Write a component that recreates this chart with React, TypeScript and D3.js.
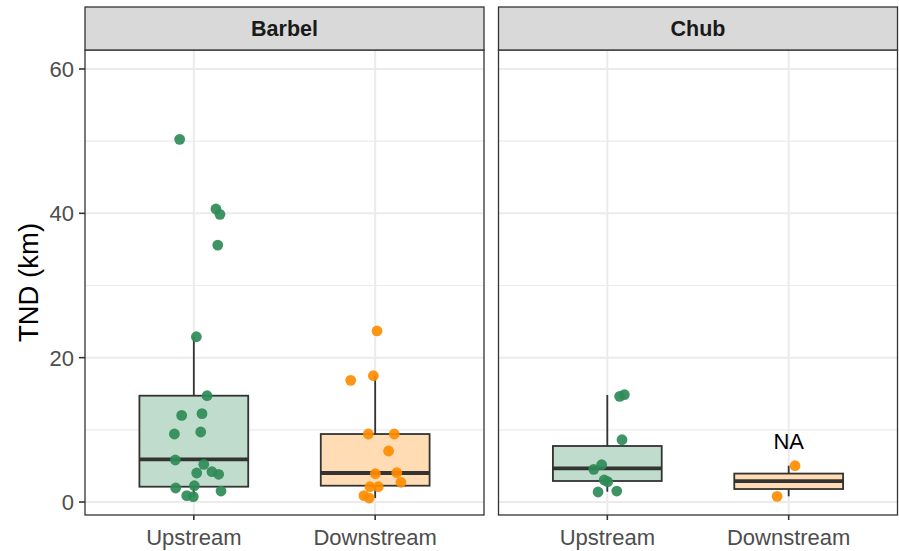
import React from "react";
import * as d3 from "d3";

// ---- Data ----
const facets = ["Barbel", "Chub"];
const groups = ["Upstream", "Downstream"];
const yTicks = [0, 20, 40, 60];
const yMinorTicks = [10, 30, 50];

// box stats: [lowerWhisker, q1, median, q3, upperWhisker]
const boxBarbelUp = [0.74, 2.12, 5.9, 14.73, 22.9];
const boxBarbelDown = [0.55, 2.26, 4.02, 9.42, 17.46];
const boxChubUp = [1.43, 2.91, 4.67, 7.76, 14.83];
const boxChubDown = [0.79, 1.8, 2.88, 3.94, 5.03];

// points: [value, jitter offset in category units]
const ptsBarbelUp: [number, number][] = [
  [50.25, -0.078], [40.6, 0.122], [39.86, 0.144], [35.6, 0.132], [22.9, 0.014],
  [14.73, 0.073], [12.0, -0.067], [12.24, 0.045], [9.42, -0.107], [9.7, 0.038],
  [5.82, -0.102], [5.22, 0.055], [4.02, 0.016], [4.2, 0.1], [3.84, 0.137],
  [1.94, -0.1], [2.26, 0.003], [1.52, 0.15], [0.88, -0.039], [0.74, -0.003],
];
const ptsBarbelDown: [number, number][] = [
  [23.7, 0.01], [16.86, -0.135], [17.5, -0.01], [9.42, -0.038], [9.42, 0.105],
  [7.07, 0.074], [3.92, 0.001], [4.06, 0.119], [2.73, 0.142], [2.12, -0.029],
  [2.12, 0.017], [0.88, -0.062], [0.55, -0.033],
];
const ptsChubUp: [number, number][] = [
  [14.64, 0.068], [14.87, 0.094], [8.63, 0.081], [5.17, -0.031], [4.53, -0.075],
  [3.05, -0.017], [2.81, 0.002], [1.39, -0.051], [1.52, 0.052],
];
const ptsChubDown: [number, number][] = [[5.03, 0.035], [0.79, -0.064]];

const naLabel = { facet: "Chub", group: "Downstream", y: 8.5, text: "NA" };

const boxes: Record<string, Record<string, number[]>> = {
  Barbel: { Upstream: boxBarbelUp, Downstream: boxBarbelDown },
  Chub: { Upstream: boxChubUp, Downstream: boxChubDown },
};
const points: Record<string, Record<string, [number, number][]>> = {
  Barbel: { Upstream: ptsBarbelUp, Downstream: ptsBarbelDown },
  Chub: { Upstream: ptsChubUp, Downstream: ptsChubDown },
};

const pointColor: Record<string, string> = { Upstream: "#2e8b57", Downstream: "#ff8c00" };
const fillColor: Record<string, string> = { Upstream: "#c0dccd", Downstream: "#ffdcb3" };

export default function App() {
  const W = 899, H = 551;
  const panelX = [85, 498.5];
  const panelW = 399;
  const panelTop = 50, panelBottom = 515;
  const stripTop = 7;
  const y = d3.scaleLinear().domain([-1.8, 62.63]).range([panelBottom, panelTop]);
  const font = "'Liberation Sans', Arial, Helvetica, sans-serif";
  const dark = "#333333";

  return (
    <svg width={W} height={H} style={{ position: "absolute", left: 0, top: 0 }}>
      <rect x={0} y={0} width={W} height={H} fill="#fff" />
      {facets.map((f, fi) => {
        const x0 = panelX[fi];
        // discrete axis with 0.6 expansion on each side
        const xc = d3.scaleLinear().domain([0.4, 2.6]).range([x0, x0 + panelW]);
        const cx = (g: string) => xc(groups.indexOf(g) + 1);
        const unit = xc(1) - xc(0);
        const bw = 0.6 * unit;
        return (
          <g key={f}>
            <rect x={x0} y={panelTop} width={panelW} height={panelBottom - panelTop} fill="#fff" />
            {yMinorTicks.map((t) => (
              <line key={"mn" + t} x1={x0} x2={x0 + panelW} y1={y(t)} y2={y(t)} stroke="#ebebeb" strokeWidth={1.1} />
            ))}
            {yTicks.map((t) => (
              <line key={"mj" + t} x1={x0} x2={x0 + panelW} y1={y(t)} y2={y(t)} stroke="#ebebeb" strokeWidth={2} />
            ))}
            {groups.map((g) => (
              <line key={"vg" + g} x1={cx(g)} x2={cx(g)} y1={panelTop} y2={panelBottom} stroke="#ebebeb" strokeWidth={2} />
            ))}
            {groups.map((g) => {
              const [lw, q1, md, q3, uw] = boxes[f][g];
              const c = cx(g);
              return (
                <g key={"b" + g}>
                  <line x1={c} x2={c} y1={y(q3)} y2={y(uw)} stroke={dark} strokeWidth={1.8} />
                  <line x1={c} x2={c} y1={y(q1)} y2={y(lw)} stroke={dark} strokeWidth={1.8} />
                  <rect x={c - bw / 2} y={y(q3)} width={bw} height={y(q1) - y(q3)} fill={fillColor[g]} stroke={dark} strokeWidth={1.8} />
                  <line x1={c - bw / 2} x2={c + bw / 2} y1={y(md)} y2={y(md)} stroke={dark} strokeWidth={3.8} />
                </g>
              );
            })}
            {groups.map((g) =>
              points[f][g].map(([v, j], i) => (
                <circle key={g + i} cx={cx(g) + j * unit} cy={y(v)} r={5.4} fill={pointColor[g]} fillOpacity={0.92} />
              ))
            )}
            {naLabel.facet === f && (
              <text x={cx(naLabel.group)} y={y(naLabel.y)} dy="0.36em" textAnchor="middle" fontFamily={font} fontSize={22} fill="#000">
                {naLabel.text}
              </text>
            )}
            <rect x={x0} y={panelTop} width={panelW} height={panelBottom - panelTop} fill="none" stroke={dark} strokeWidth={1.3} />
            <rect x={x0} y={stripTop} width={panelW} height={panelTop - stripTop} fill="#d9d9d9" stroke={dark} strokeWidth={1.3} />
            <text x={x0 + panelW / 2} y={(stripTop + panelTop) / 2} dy="0.36em" textAnchor="middle" fontFamily={font} fontSize={21.5} fontWeight="bold" fill="#1a1a1a">
              {f}
            </text>
            {groups.map((g) => (
              <g key={"xt" + g}>
                <line x1={cx(g)} x2={cx(g)} y1={panelBottom} y2={panelBottom + 5} stroke={dark} strokeWidth={1.6} />
                <text x={cx(g)} y={panelBottom + 30} textAnchor="middle" fontFamily={font} fontSize={22} fill="#4d4d4d">
                  {g}
                </text>
              </g>
            ))}
          </g>
        );
      })}
      {yTicks.map((t) => (
        <g key={"yt" + t}>
          <line x1={panelX[0] - 6} x2={panelX[0]} y1={y(t)} y2={y(t)} stroke={dark} strokeWidth={1.6} />
          <text x={panelX[0] - 11} y={y(t)} dy="0.36em" textAnchor="end" fontFamily={font} fontSize={22} fill="#4d4d4d">
            {t}
          </text>
        </g>
      ))}
      <text
        transform={`translate(38, ${(panelTop + panelBottom) / 2}) rotate(-90)`}
        textAnchor="middle"
        fontFamily={font}
        fontSize={27.5}
        fill="#000"
      >
        TND (km)
      </text>
    </svg>
  );
}
